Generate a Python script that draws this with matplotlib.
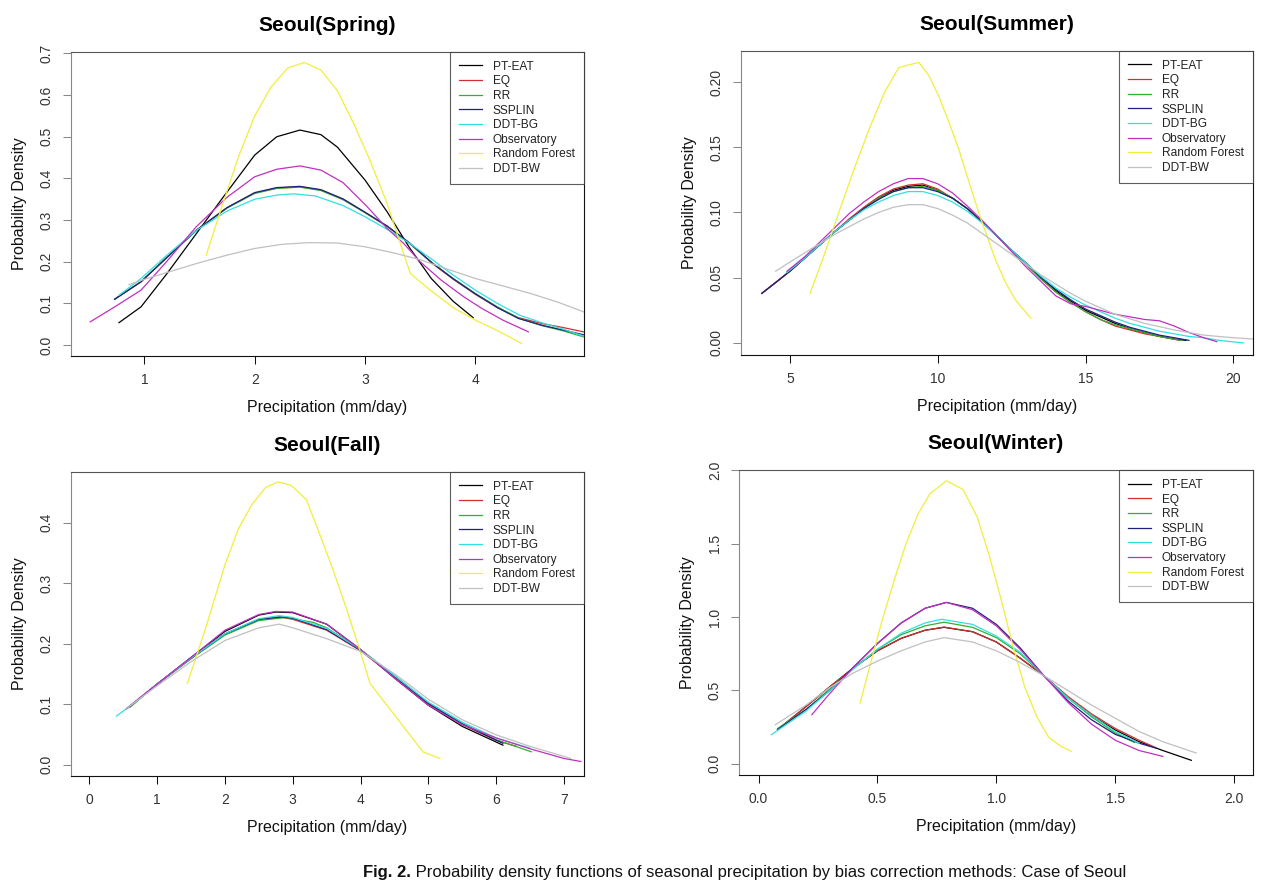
import matplotlib
matplotlib.use("Agg")
import matplotlib.pyplot as plt

# ---- data ----
methods = ["PT-EAT", "EQ", "RR", "SSPLIN", "DDT-BG", "Observatory", "Random Forest", "DDT-BW"]
colors = ["#000000", "#d03030", "#30b030", "#202080", "#30e0e0", "#c030c0", "#f2ee3a", "#c0c0c0"]

# Spring
spr_pt_x = [0.77, 0.97, 1.2, 1.45, 1.7, 2.0, 2.2, 2.41, 2.6, 2.75, 3.0, 3.2, 3.4, 3.6, 3.8, 3.98]
spr_pt_y = [0.054, 0.092, 0.17, 0.26, 0.35, 0.456, 0.50, 0.516, 0.505, 0.475, 0.396, 0.32, 0.235, 0.16, 0.105, 0.066]
spr_eq_x = [0.73, 0.97, 1.2, 1.47, 1.75, 2.0, 2.2, 2.41, 2.6, 2.8, 3.0, 3.2, 3.4, 3.61, 3.8, 4.0, 4.2, 4.39, 4.6, 4.8, 4.98]
spr_eq_y = [0.11, 0.152, 0.21, 0.276, 0.33, 0.365, 0.377, 0.38, 0.372, 0.35, 0.318, 0.285, 0.245, 0.196, 0.158, 0.122, 0.09, 0.066, 0.052, 0.042, 0.032]
spr_rr_x = [0.73, 0.97, 1.2, 1.47, 1.75, 2.0, 2.2, 2.41, 2.6, 2.8, 3.0, 3.2, 3.4, 3.61, 3.8, 4.0, 4.2, 4.39, 4.6, 4.8, 4.98]
spr_rr_y = [0.11, 0.153, 0.21, 0.275, 0.329, 0.364, 0.376, 0.379, 0.371, 0.349, 0.318, 0.285, 0.245, 0.197, 0.16, 0.124, 0.092, 0.065, 0.047, 0.034, 0.02]
spr_ss_x = [0.73, 0.97, 1.2, 1.47, 1.75, 2.0, 2.2, 2.41, 2.6, 2.8, 3.0, 3.2, 3.4, 3.61, 3.8, 4.0, 4.2, 4.39, 4.6, 4.8, 4.98]
spr_ss_y = [0.11, 0.152, 0.209, 0.275, 0.33, 0.366, 0.378, 0.381, 0.373, 0.351, 0.319, 0.286, 0.246, 0.197, 0.159, 0.123, 0.09, 0.064, 0.048, 0.036, 0.025]
spr_bg_x = [0.77, 0.97, 1.2, 1.47, 1.75, 2.0, 2.2, 2.35, 2.55, 2.8, 3.0, 3.2, 3.4, 3.61, 3.8, 4.0, 4.2, 4.4, 4.6, 4.8, 4.98]
spr_bg_y = [0.12, 0.16, 0.215, 0.275, 0.322, 0.35, 0.36, 0.363, 0.358, 0.335, 0.308, 0.278, 0.245, 0.205, 0.168, 0.132, 0.1, 0.072, 0.054, 0.038, 0.022]
spr_obs_x = [0.51, 0.75, 0.97, 1.2, 1.47, 1.75, 2.0, 2.2, 2.41, 2.6, 2.8, 3.02, 3.2, 3.35, 3.5, 3.69, 3.9, 4.06, 4.25, 4.48]
spr_obs_y = [0.056, 0.095, 0.132, 0.2, 0.284, 0.355, 0.404, 0.422, 0.43, 0.42, 0.39, 0.332, 0.28, 0.244, 0.2, 0.156, 0.115, 0.088, 0.06, 0.032]
spr_rf_x = [1.56, 1.7, 1.85, 2.0, 2.15, 2.3, 2.45, 2.6, 2.75, 2.9, 3.05, 3.2, 3.41, 3.6, 3.8, 4.0, 4.2, 4.42]
spr_rf_y = [0.216, 0.33, 0.45, 0.55, 0.62, 0.665, 0.678, 0.66, 0.61, 0.53, 0.44, 0.34, 0.172, 0.13, 0.09, 0.06, 0.035, 0.004]
spr_bw_x = [0.86, 1.0, 1.25, 1.5, 1.75, 2.0, 2.25, 2.5, 2.75, 3.0, 3.25, 3.5, 3.75, 4.0, 4.25, 4.5, 4.75, 5.0, 5.2]
spr_bw_y = [0.145, 0.158, 0.178, 0.198, 0.216, 0.232, 0.242, 0.246, 0.245, 0.236, 0.222, 0.205, 0.182, 0.16, 0.142, 0.124, 0.103, 0.078, 0.06]

# Summer
smr_pt_x = [4.05, 4.5, 5.0, 5.5, 6.0, 6.5, 7.0, 7.5, 8.0, 8.5, 9.0, 9.5, 10.0, 10.5, 11.0, 11.5, 12.0, 12.5, 13.0, 13.5, 14.0, 14.5, 15.0, 15.5, 16.0, 16.5, 17.0, 17.5, 18.0, 18.4]
smr_pt_y = [0.038, 0.046, 0.055, 0.065, 0.075, 0.085, 0.094, 0.103, 0.111, 0.117, 0.120, 0.121, 0.117, 0.111, 0.103, 0.093, 0.082, 0.071, 0.061, 0.050, 0.040, 0.032, 0.025, 0.020, 0.015, 0.011, 0.008, 0.005, 0.003, 0.002]
smr_eq_x = [4.05, 4.5, 5.0, 5.5, 6.0, 6.5, 7.0, 7.5, 8.0, 8.5, 9.0, 9.5, 10.0, 10.5, 11.0, 11.5, 12.0, 12.5, 13.0, 13.5, 14.0, 14.5, 15.0, 15.5, 16.0, 16.5, 17.0, 17.5, 18.2]
smr_eq_y = [0.038, 0.046, 0.055, 0.065, 0.075, 0.085, 0.095, 0.104, 0.112, 0.118, 0.121, 0.122, 0.118, 0.111, 0.103, 0.093, 0.082, 0.071, 0.060, 0.049, 0.039, 0.031, 0.024, 0.018, 0.013, 0.010, 0.007, 0.005, 0.002]
smr_rr_x = [4.9, 5.5, 6.0, 6.5, 7.0, 7.5, 8.0, 8.5, 9.0, 9.5, 10.0, 10.5, 11.0, 11.5, 12.0, 12.5, 13.0, 13.5, 14.0, 14.5, 15.0, 15.5, 16.0, 16.5, 17.0, 17.5, 18.2]
smr_rr_y = [0.054, 0.065, 0.075, 0.085, 0.094, 0.103, 0.111, 0.116, 0.119, 0.120, 0.117, 0.111, 0.103, 0.093, 0.082, 0.071, 0.060, 0.049, 0.039, 0.031, 0.024, 0.018, 0.014, 0.011, 0.008, 0.005, 0.002]
smr_ss_x = [4.05, 4.5, 5.0, 5.5, 6.0, 6.5, 7.0, 7.5, 8.0, 8.5, 9.0, 9.5, 10.0, 10.5, 11.0, 11.5, 12.0, 12.5, 13.0, 13.5, 14.0, 14.5, 15.0, 15.5, 16.0, 16.5, 17.0, 17.5, 18.0, 18.5]
smr_ss_y = [0.038, 0.046, 0.055, 0.065, 0.075, 0.085, 0.094, 0.103, 0.110, 0.116, 0.119, 0.119, 0.116, 0.111, 0.103, 0.093, 0.082, 0.071, 0.061, 0.050, 0.041, 0.033, 0.026, 0.021, 0.016, 0.012, 0.009, 0.006, 0.004, 0.002]
smr_bg_x = [4.9, 5.5, 6.0, 6.5, 7.0, 7.5, 8.0, 8.5, 9.0, 9.5, 10.0, 10.5, 11.0, 11.5, 12.0, 12.5, 13.0, 13.5, 14.0, 14.5, 15.0, 15.5, 16.0, 16.5, 17.0, 17.5, 18.0, 18.5, 19.0, 19.5, 20.35]
smr_bg_y = [0.054, 0.065, 0.075, 0.085, 0.094, 0.102, 0.108, 0.113, 0.116, 0.116, 0.113, 0.108, 0.101, 0.092, 0.082, 0.071, 0.061, 0.051, 0.042, 0.035, 0.029, 0.024, 0.019, 0.015, 0.012, 0.009, 0.007, 0.005, 0.004, 0.002, 0.0]
smr_obs_x = [4.9, 5.5, 6.0, 6.5, 7.0, 7.5, 8.0, 8.5, 9.0, 9.5, 10.0, 10.5, 11.0, 11.5, 12.0, 12.5, 13.0, 13.5, 14.0, 14.5, 15.0, 15.5, 16.0, 16.5, 17.0, 17.5, 18.0, 18.5, 19.0, 19.44]
smr_obs_y = [0.055, 0.066, 0.077, 0.088, 0.099, 0.108, 0.116, 0.122, 0.126, 0.126, 0.122, 0.115, 0.105, 0.094, 0.082, 0.070, 0.058, 0.047, 0.036, 0.030, 0.028, 0.025, 0.022, 0.020, 0.018, 0.017, 0.013, 0.008, 0.004, 0.001]
smr_rf_x = [5.68, 6.2, 6.7, 7.2, 7.7, 8.2, 8.68, 9.0, 9.36, 9.7, 10.04, 10.4, 10.72, 11.05, 11.4, 11.7, 11.95, 12.3, 12.63, 13.15]
smr_rf_y = [0.038, 0.07, 0.103, 0.135, 0.165, 0.192, 0.211, 0.213, 0.215, 0.205, 0.189, 0.168, 0.148, 0.124, 0.099, 0.08, 0.064, 0.046, 0.033, 0.019]
smr_bw_x = [4.52, 5.0, 5.5, 6.0, 6.5, 7.0, 7.5, 8.0, 8.5, 9.0, 9.5, 10.0, 10.5, 11.0, 11.5, 12.0, 12.5, 13.0, 13.5, 14.0, 14.5, 15.0, 16.0, 17.0, 18.0, 19.0, 20.0, 20.7]
smr_bw_y = [0.055, 0.062, 0.069, 0.076, 0.083, 0.089, 0.095, 0.1, 0.104, 0.106, 0.106, 0.103, 0.098, 0.092, 0.084, 0.076, 0.068, 0.060, 0.052, 0.045, 0.038, 0.032, 0.022, 0.015, 0.010, 0.006, 0.004, 0.003]

# Fall
fal_pt_x = [0.62, 1.0, 1.5, 2.0, 2.5, 2.75, 3.0, 3.5, 4.0, 4.5, 5.0, 5.5, 6.1]
fal_pt_y = [0.098, 0.133, 0.177, 0.22, 0.247, 0.252, 0.251, 0.232, 0.19, 0.143, 0.098, 0.063, 0.032]
fal_eq_x = [0.6, 1.0, 1.5, 2.0, 2.5, 2.8, 3.0, 3.5, 4.0, 4.5, 5.0, 5.5, 6.0, 6.3]
fal_eq_y = [0.095, 0.133, 0.175, 0.215, 0.24, 0.244, 0.24, 0.222, 0.188, 0.145, 0.1, 0.066, 0.04, 0.03]
fal_rr_x = [0.6, 1.0, 1.5, 2.0, 2.5, 2.9, 3.3, 3.5, 4.0, 4.5, 5.0, 5.5, 6.0, 6.52]
fal_rr_y = [0.095, 0.133, 0.175, 0.214, 0.238, 0.243, 0.235, 0.226, 0.19, 0.147, 0.102, 0.068, 0.041, 0.021]
fal_ss_x = [0.55, 1.0, 1.5, 2.0, 2.5, 2.85, 3.0, 3.5, 4.0, 4.5, 5.0, 5.5, 6.1]
fal_ss_y = [0.092, 0.133, 0.176, 0.216, 0.24, 0.244, 0.242, 0.223, 0.189, 0.146, 0.101, 0.067, 0.035]
fal_bg_x = [0.4, 0.7, 1.0, 1.5, 2.0, 2.5, 2.8, 3.0, 3.5, 4.0, 4.5, 5.0, 5.5, 6.0, 6.5]
fal_bg_y = [0.08, 0.105, 0.133, 0.176, 0.216, 0.241, 0.246, 0.243, 0.225, 0.19, 0.147, 0.103, 0.07, 0.044, 0.027]
fal_obs_x = [0.55, 1.0, 1.5, 2.0, 2.5, 2.75, 3.0, 3.5, 4.0, 4.5, 5.0, 5.5, 6.0, 6.5, 7.0, 7.25]
fal_obs_y = [0.093, 0.133, 0.177, 0.222, 0.248, 0.253, 0.252, 0.232, 0.19, 0.143, 0.098, 0.066, 0.044, 0.026, 0.01, 0.005]
fal_rf_x = [1.445, 1.7, 2.0, 2.2, 2.4, 2.6, 2.78, 2.97, 3.2, 3.4, 3.6, 3.8, 4.0, 4.14, 4.5, 4.92, 5.17]
fal_rf_y = [0.134, 0.22, 0.33, 0.39, 0.43, 0.458, 0.467, 0.462, 0.438, 0.38, 0.32, 0.255, 0.185, 0.134, 0.082, 0.021, 0.01]
fal_bw_x = [0.55, 1.0, 1.5, 2.0, 2.5, 2.8, 3.0, 3.5, 4.0, 4.5, 5.0, 5.5, 6.0, 6.5, 7.1]
fal_bw_y = [0.093, 0.13, 0.17, 0.205, 0.226, 0.232, 0.226, 0.208, 0.187, 0.15, 0.108, 0.074, 0.049, 0.03, 0.01]

# Winter
win_pt_x = [0.08, 0.2, 0.3, 0.4, 0.5, 0.6, 0.7, 0.78, 0.9, 1.0, 1.1, 1.2, 1.3, 1.4, 1.5, 1.6, 1.7, 1.82]
win_pt_y = [0.232, 0.39, 0.525, 0.655, 0.77, 0.855, 0.91, 0.93, 0.9, 0.83, 0.72, 0.6, 0.45, 0.33, 0.23, 0.15, 0.09, 0.023]
win_eq_x = [0.08, 0.2, 0.3, 0.4, 0.5, 0.6, 0.7, 0.78, 0.9, 1.0, 1.1, 1.2, 1.3, 1.4, 1.5, 1.6, 1.67]
win_eq_y = [0.232, 0.39, 0.525, 0.655, 0.77, 0.855, 0.91, 0.932, 0.9, 0.83, 0.72, 0.6, 0.46, 0.34, 0.24, 0.16, 0.11]
win_rr_x = [0.08, 0.2, 0.3, 0.4, 0.5, 0.6, 0.7, 0.78, 0.9, 1.0, 1.1, 1.2, 1.3, 1.4, 1.5, 1.58]
win_rr_y = [0.24, 0.37, 0.51, 0.65, 0.78, 0.88, 0.94, 0.965, 0.93, 0.86, 0.75, 0.6, 0.45, 0.32, 0.21, 0.145]
win_ss_x = [0.08, 0.2, 0.3, 0.4, 0.5, 0.6, 0.7, 0.79, 0.9, 1.0, 1.1, 1.2, 1.3, 1.4, 1.5, 1.6, 1.67]
win_ss_y = [0.232, 0.37, 0.5, 0.66, 0.82, 0.96, 1.06, 1.1, 1.06, 0.95, 0.79, 0.6, 0.43, 0.3, 0.2, 0.14, 0.107]
win_bg_x = [0.054, 0.2, 0.3, 0.4, 0.5, 0.6, 0.7, 0.77, 0.9, 1.0, 1.1, 1.2, 1.3, 1.4, 1.5, 1.6]
win_bg_y = [0.198, 0.36, 0.5, 0.65, 0.78, 0.89, 0.96, 0.985, 0.95, 0.87, 0.76, 0.6, 0.45, 0.33, 0.22, 0.14]
win_obs_x = [0.224, 0.3, 0.4, 0.5, 0.6, 0.7, 0.79, 0.9, 1.0, 1.1, 1.2, 1.3, 1.4, 1.5, 1.6, 1.7]
win_obs_y = [0.334, 0.48, 0.66, 0.82, 0.96, 1.06, 1.1, 1.05, 0.94, 0.78, 0.6, 0.42, 0.27, 0.16, 0.09, 0.05]
win_rf_x = [0.427, 0.47, 0.52, 0.57, 0.62, 0.67, 0.72, 0.79, 0.86, 0.92, 0.97, 1.02, 1.07, 1.12, 1.17, 1.22, 1.27, 1.315]
win_rf_y = [0.414, 0.68, 0.98, 1.25, 1.5, 1.7, 1.84, 1.93, 1.87, 1.68, 1.42, 1.12, 0.80, 0.52, 0.32, 0.18, 0.12, 0.084]
win_bw_x = [0.071, 0.2, 0.3, 0.4, 0.5, 0.6, 0.7, 0.78, 0.9, 1.0, 1.1, 1.2, 1.3, 1.4, 1.5, 1.6, 1.7, 1.84]
win_bw_y = [0.266, 0.40, 0.52, 0.62, 0.70, 0.77, 0.83, 0.86, 0.83, 0.77, 0.69, 0.60, 0.50, 0.40, 0.31, 0.22, 0.15, 0.073]

spr_series = [(spr_pt_x, spr_pt_y), (spr_eq_x, spr_eq_y), (spr_rr_x, spr_rr_y), (spr_ss_x, spr_ss_y),
              (spr_bg_x, spr_bg_y), (spr_obs_x, spr_obs_y), (spr_rf_x, spr_rf_y), (spr_bw_x, spr_bw_y)]
smr_series = [(smr_pt_x, smr_pt_y), (smr_eq_x, smr_eq_y), (smr_rr_x, smr_rr_y), (smr_ss_x, smr_ss_y),
              (smr_bg_x, smr_bg_y), (smr_obs_x, smr_obs_y), (smr_rf_x, smr_rf_y), (smr_bw_x, smr_bw_y)]
fal_series = [(fal_pt_x, fal_pt_y), (fal_eq_x, fal_eq_y), (fal_rr_x, fal_rr_y), (fal_ss_x, fal_ss_y),
              (fal_bg_x, fal_bg_y), (fal_obs_x, fal_obs_y), (fal_rf_x, fal_rf_y), (fal_bw_x, fal_bw_y)]
win_series = [(win_pt_x, win_pt_y), (win_eq_x, win_eq_y), (win_rr_x, win_rr_y), (win_ss_x, win_ss_y),
              (win_bg_x, win_bg_y), (win_obs_x, win_obs_y), (win_rf_x, win_rf_y), (win_bw_x, win_bw_y)]

spr_xticks = [1, 2, 3, 4]
spr_yticks = [0.0, 0.1, 0.2, 0.3, 0.4, 0.5, 0.6, 0.7]
smr_xticks = [5, 10, 15, 20]
smr_yticks = [0.00, 0.05, 0.10, 0.15, 0.20]
fal_xticks = [0, 1, 2, 3, 4, 5, 6, 7]
fal_yticks = [0.0, 0.1, 0.2, 0.3, 0.4]
win_xticks = [0.0, 0.5, 1.0, 1.5, 2.0]
win_yticks = [0.0, 0.5, 1.0, 1.5, 2.0]

plt.rcParams['font.family'] = ['Liberation Sans', 'DejaVu Sans']

W, H = 1273, 889
fig = plt.figure(figsize=(W / 100, H / 100), dpi=100)
fig.patch.set_facecolor('white')


def make_ax(l, r, t, b):
    return fig.add_axes([l / W, 1 - b / H, (r - l) / W, (b - t) / H])


def panel(ax, series, title, xlim, ylim, xticks, xfmt, yticks, yfmt):
    for (xs, ys), c, name in zip(series, colors, methods):
        ax.plot(xs, ys, color=c, lw=0.9, label=name)
    ax.set_xlim(*xlim)
    ax.set_ylim(*ylim)
    ax.set_xticks(xticks)
    ax.set_xticklabels([xfmt % v for v in xticks])
    ax.set_yticks(yticks)
    ax.set_yticklabels([yfmt % v for v in yticks], rotation=90, va='center')
    ax.tick_params(axis='both', direction='out', length=5.5, width=0.75,
                   labelsize=10, labelcolor='#333333', pad=7)
    ax.tick_params(axis='y', color='#888888')
    ax.tick_params(axis='x', color='#111111')
    ax.spines['left'].set_color('#888888')
    ax.spines['top'].set_color('#555555')
    ax.spines['bottom'].set_color('#111111')
    ax.spines['right'].set_color('#111111')
    for s in ax.spines.values():
        s.set_linewidth(0.8)
    ax.set_title(title, fontsize=15, fontweight='bold', pad=15)
    ax.set_xlabel('Precipitation (mm/day)', fontsize=11.5, color='#111111')
    ax.set_ylabel('Probability Density', fontsize=11.5, color='#111111')
    ax.xaxis.set_label_coords(0.5, -44 / 304)
    ax.yaxis.set_label_coords(-44 / 512, 0.5)
    leg = ax.legend(loc='upper right', fontsize=8.6, frameon=True, fancybox=False,
                    borderaxespad=0, handlelength=1.9, handletextpad=0.9,
                    labelspacing=0.22, borderpad=0.75)
    leg.get_frame().set_edgecolor('#333333')
    leg.get_frame().set_linewidth(0.8)
    for t in leg.get_texts():
        t.set_color('#222222')


ax1 = make_ax(71, 583.5, 51.7, 356)
panel(ax1, spr_series, 'Seoul(Spring)', (0.335, 4.98), (-0.026, 0.704),
      spr_xticks, '%d', spr_yticks, '%.1f')
ax2 = make_ax(740.7, 1252.7, 50.7, 354.7)
panel(ax2, smr_series, 'Seoul(Summer)', (3.336, 20.656), (-0.009, 0.224),
      smr_xticks, '%d', smr_yticks, '%.2f')
ax3 = make_ax(71, 583.5, 471.7, 776)
panel(ax3, fal_series, 'Seoul(Fall)', (-0.271, 7.289), (-0.019, 0.484),
      fal_xticks, '%d', fal_yticks, '%.1f')
ax4 = make_ax(739.3, 1252.7, 470, 774.7)
panel(ax4, win_series, 'Seoul(Winter)', (-0.081, 2.078), (-0.075, 2.003),
      win_xticks, '%.1f', win_yticks, '%.1f')

# caption: bold "Fig. 2." followed by normal text, centred as a whole
cap_font = ['Liberation Sans', 'DejaVu Sans']
cap_y = 1 - 873 / H
t1 = fig.text(0, cap_y, 'Fig. 2.', fontsize=12, fontweight='bold', family=cap_font,
              va='center', ha='left', color='#111111')
t2 = fig.text(0, cap_y, ' Probability density functions of seasonal precipitation by bias '
              'correction methods: Case of Seoul', fontsize=12, family=cap_font,
              va='center', ha='left', color='#111111')
fig.canvas.draw()
r = fig.canvas.get_renderer()
w1 = t1.get_window_extent(r).width
w2 = t2.get_window_extent(r).width
x0 = 745 - (w1 + w2) / 2
t1.set_x(x0 / W)
t2.set_x((x0 + w1) / W)

fig.savefig('out.png', dpi=100)
